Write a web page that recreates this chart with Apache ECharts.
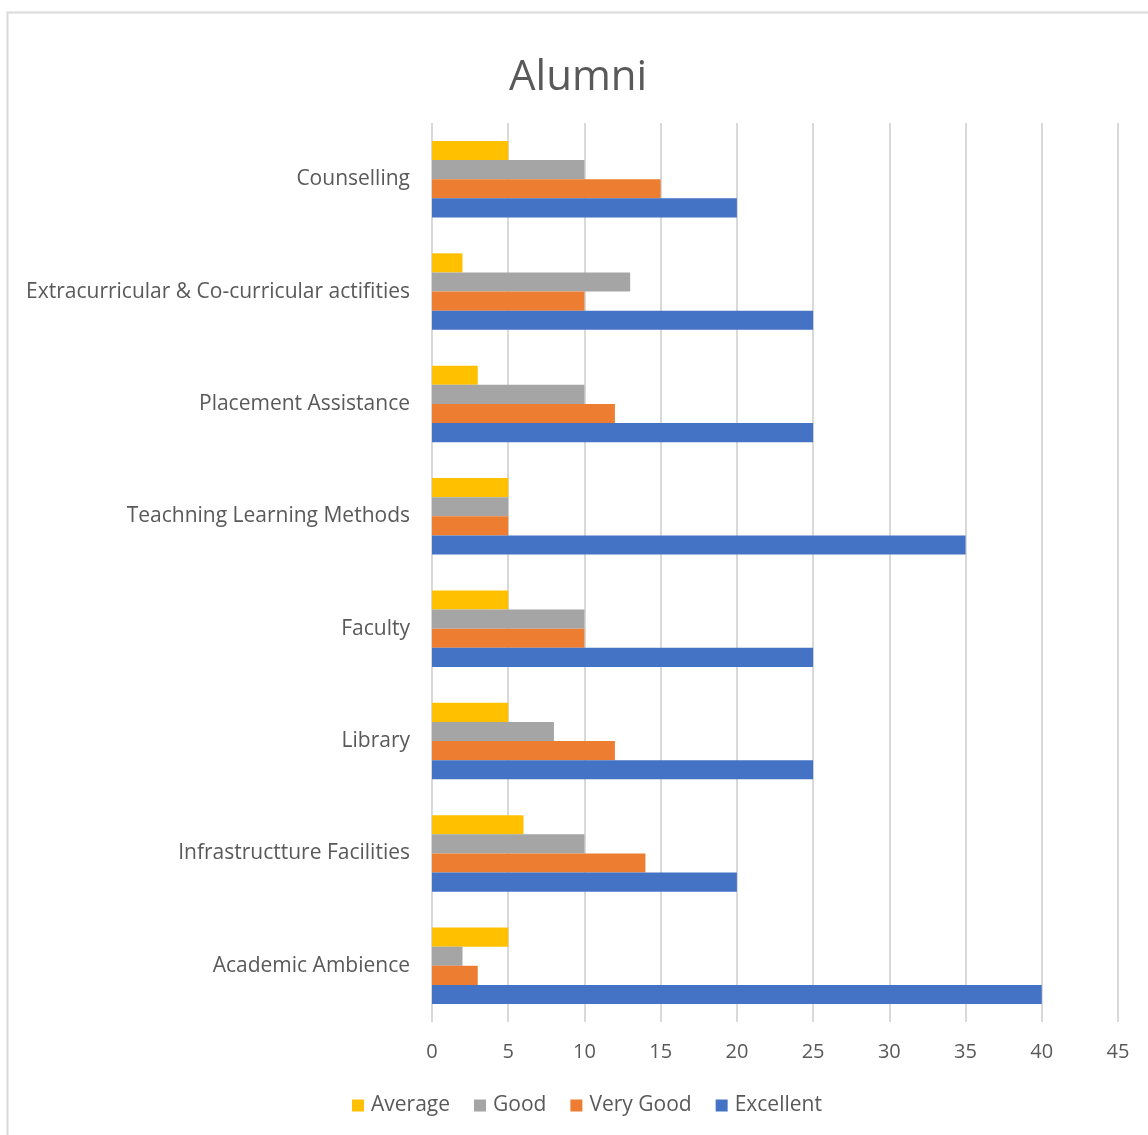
<!DOCTYPE html>
<html>
<head>
<meta charset="utf-8">
<script src="https://cdn.jsdelivr.net/npm/echarts@6/dist/echarts.min.js"></script>
<style>html,body{margin:0;padding:0;background:#fff;}#c{width:1148px;height:1135px;}</style>
</head>
<body>
<div id="c"></div>
<script>
const categories = ["Academic Ambience","Infrastructture Facilities","Library","Faculty","Teachning Learning Methods","Placement Assistance","Extracurricular & Co-curricular actifities","Counselling"];
const average   = [5, 6, 5, 5, 5, 3, 2, 5];
const good      = [2, 10, 8, 10, 5, 10, 13, 10];
const veryGood  = [3, 14, 12, 10, 5, 12, 10, 15];
const excellent = [40, 20, 25, 25, 35, 25, 25, 20];
const xTicks = {min: 0, max: 45, interval: 5};

const FONT = '"Open Sans", "Noto Sans", sans-serif';
const chart = echarts.init(document.getElementById('c'), null, {renderer: 'canvas'});
chart.setOption({
  animation: false,
  backgroundColor: '#fff',
  graphic: [{type: 'rect', shape: {x: 7.5, y: 12.5, width: 1300, height: 1300}, style: {fill: 'none', stroke: '#D9D9D9', lineWidth: 2}, z: -1}],
  title: {text: 'Alumni', left: 504, top: 52, textStyle: {fontFamily: FONT, fontSize: 42, fontWeight: 'normal', color: '#595959'}},
  legend: {
    data: ['Average', 'Good', 'Very Good', 'Excellent'],
    bottom: 14, left: 347,
    itemWidth: 12, itemHeight: 12, itemGap: 24,
    icon: 'rect',
    textStyle: {fontFamily: FONT, fontSize: 21, color: '#595959', padding: [0, 0, 0, 2]}
  },
  grid: {left: 432, right: 30, top: 123, bottom: 113, containLabel: false},
  xAxis: {
    type: 'value', min: xTicks.min, max: xTicks.max, interval: xTicks.interval,
    axisLine: {show: false}, axisTick: {show: false},
    splitLine: {show: true, lineStyle: {color: '#D9D9D9', width: 2}},
    axisLabel: {fontFamily: FONT, fontSize: 20, color: '#595959', margin: 20}
  },
  yAxis: {
    type: 'category', data: categories,
    axisLine: {show: false}, axisTick: {show: false},
    axisLabel: {fontFamily: FONT, fontSize: 21, color: '#595959', margin: 22}
  },
  series: [
    {name: 'Average', type: 'bar', data: average, itemStyle: {color: '#FFC000'}, barGap: '0%', barCategoryGap: '32%'},
    {name: 'Good', type: 'bar', data: good, itemStyle: {color: '#A5A5A5'}},
    {name: 'Very Good', type: 'bar', data: veryGood, itemStyle: {color: '#ED7D31'}},
    {name: 'Excellent', type: 'bar', data: excellent, itemStyle: {color: '#4472C4'}}
  ]
});
</script>
</body>
</html>
